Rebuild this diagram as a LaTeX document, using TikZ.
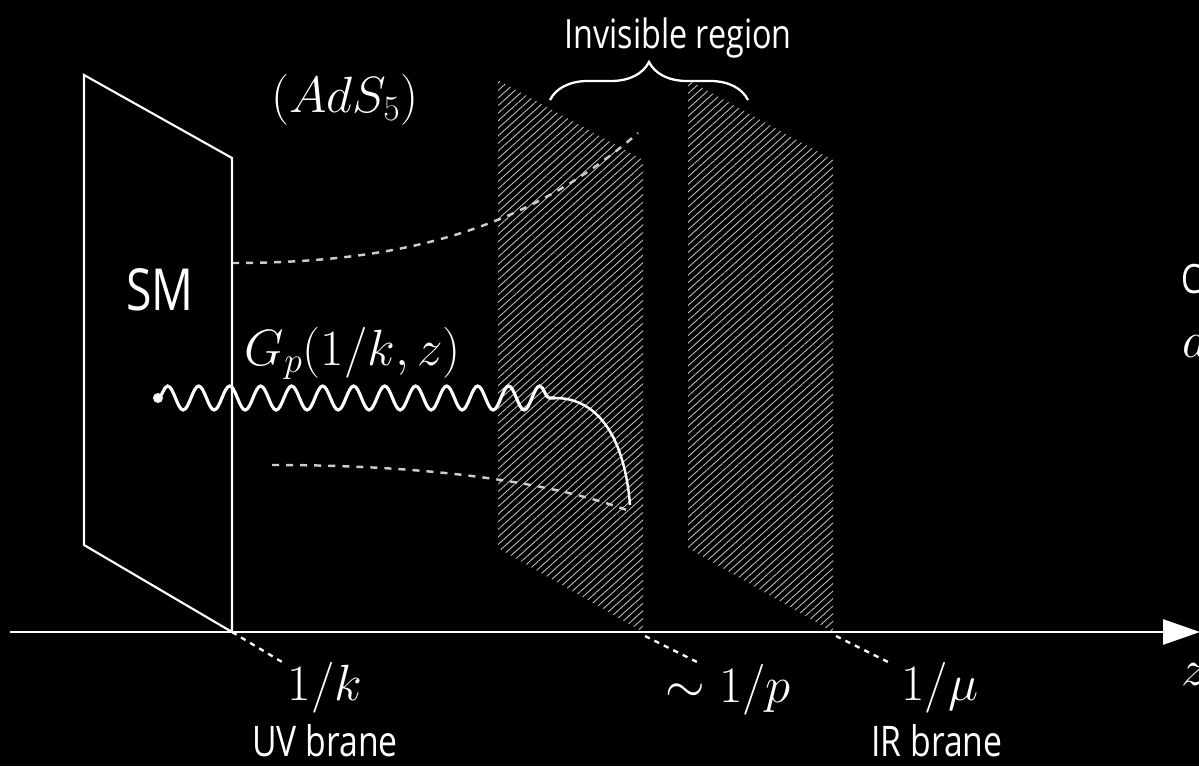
\documentclass[tikz,border=0pt]{standalone}
\usepackage{fix-cm}
\usepackage{amsmath,amssymb}
\usepackage{fontspec}
\newfontfamily\handfont[FakeStretch=0.8]{Open Sans}
\usepackage{tikz}
\usetikzlibrary{patterns.meta,decorations.pathmorphing,decorations.pathreplacing,arrows.meta,calc}
\tikzset{
    brane/.style={draw=white, line width=1.2pt},
    hatched/.style={pattern={Lines[angle=42, distance=3.2pt, line width=0.5pt]}, pattern color=white!75!black},
    dashed curve/.style={draw=white!80!black, line width=1.4pt, dash pattern=on 4pt off 4pt},
    tick line/.style={draw=white, line width=1.3pt, dash pattern=on 3pt off 3pt},
    graviton/.style={draw=white, line width=1.8pt, decorate, decoration={snake, amplitude=0.24cm, segment length=0.62cm}},
    math label/.style={text=white, font=\fontsize{29}{34}\selectfont, inner sep=0pt},
    hand label/.style={text=white, font=\handfont\fontsize{24}{28}\selectfont, inner sep=0pt},
}

\begin{document}
\begin{tikzpicture}

\useasboundingbox (0,0) rectangle (23.98,15.32);
\fill[black] (0,0) rectangle (23.98,15.32);

% Corners of the branes
\coordinate (uv tl) at (1.68,13.82);
\coordinate (uv tr) at (4.64,12.16);
\coordinate (uv br) at (4.64,2.68);
\coordinate (uv bl) at (1.68,4.42);
\coordinate (p tl) at (9.96,13.72);
\coordinate (p tr) at (12.86,12.12);
\coordinate (p br) at (12.86,2.68);
\coordinate (p bl) at (9.96,4.36);
\coordinate (ir tl) at (13.76,13.72);
\coordinate (ir tr) at (16.66,12.12);
\coordinate (ir br) at (16.66,2.68);
\coordinate (ir bl) at (13.76,4.36);

% Hatched planes
\fill[hatched] (p tl) -- (p tr) -- (p br) -- (p bl) -- cycle;
\fill[hatched] (ir tl) -- (ir tr) -- (ir br) -- (ir bl) -- cycle;

% Field lines
\coordinate (up start) at (4.64,10.06);
\coordinate (up end) at (12.76,12.66);
\coordinate (low start) at (5.44,6.02);
\coordinate (low end) at (12.64,5.08);
\draw[dashed curve] (up start) .. controls (8,10.06) and (10.5,10.7) .. (up end);
\draw[dashed curve] (low start) .. controls (8.5,6.02) and (11,5.7) .. (low end);

% Propagator
\node[circle, fill=white, inner sep=0pt, minimum size=0.2cm] (source) at (3.16,7.36) {};
\coordinate (bend) at (11.1,7.36);
\coordinate (fall) at (12.6,5.22);
\draw[graviton] (source.center) -- (bend);
\draw[white, line width=1.4pt] (bend) .. controls (12.0,7.36) and (12.5,6.5) .. (fall);

% UV brane
\draw[brane] (uv tl) -- (uv tr) -- (uv br) -- (uv bl) -- cycle;

% Axis
\coordinate (z start) at (0.2,2.68);
\coordinate (z end) at (24.0,2.68);
\draw[white, line width=1.5pt, -{Triangle[length=0.74cm, width=0.5cm]}] (z start) -- (z end);

% Ticks
\coordinate (k tick) at (5.64,2.08);
\coordinate (p tick) at (13.94,2.08);
\coordinate (mu tick) at (17.76,2.08);
\draw[tick line] (uv br) -- (k tick);
\draw[tick line] ($(p br)+(0.04,-0.08)$) -- (p tick);
\draw[tick line] ($(ir br)+(0.06,-0.08)$) -- (mu tick);

% Brace
\coordinate (brace l) at (11.0,13.32);
\coordinate (brace r) at (14.96,13.32);
\draw[white, line width=1.3pt, decorate, decoration={brace, amplitude=0.76cm}] (brace l) -- (brace r);

% Labels
\node[hand label, font=\handfont\fontsize{23}{28}\selectfont] (invisible) at (13.56,14.56) {Invisible region};
\node[math label] (ads) at (6.9,13.32) {$(AdS_5)$};
\node[hand label, font=\handfont\fontsize{33}{38}\selectfont] (sm) at (3.2,9.52) {SM};
\node[math label] (green) at (7.06,8.25) {$G_p(1/k,z)$};
\node[math label] (k pos) at (6.5,1.56) {$1/k$};
\node[math label] (p pos) at (14.56,1.52) {$\sim 1/p$};
\node[math label] (mu pos) at (18.8,1.56) {$1/\mu$};
\node[hand label] (uv name) at (6.5,0.5) {UV brane};
\node[hand label] (ir name) at (18.74,0.5) {IR brane};
\node[hand label, font=\handfont\fontsize{23}{28}\selectfont, anchor=west] (cut c) at (23.62,9.74) {C};
\node[math label, anchor=west] (cut a) at (23.64,8.38) {$a$};
\node[math label, anchor=west] (axis name) at (23.62,1.82) {$z$};

\end{tikzpicture}
\end{document}
